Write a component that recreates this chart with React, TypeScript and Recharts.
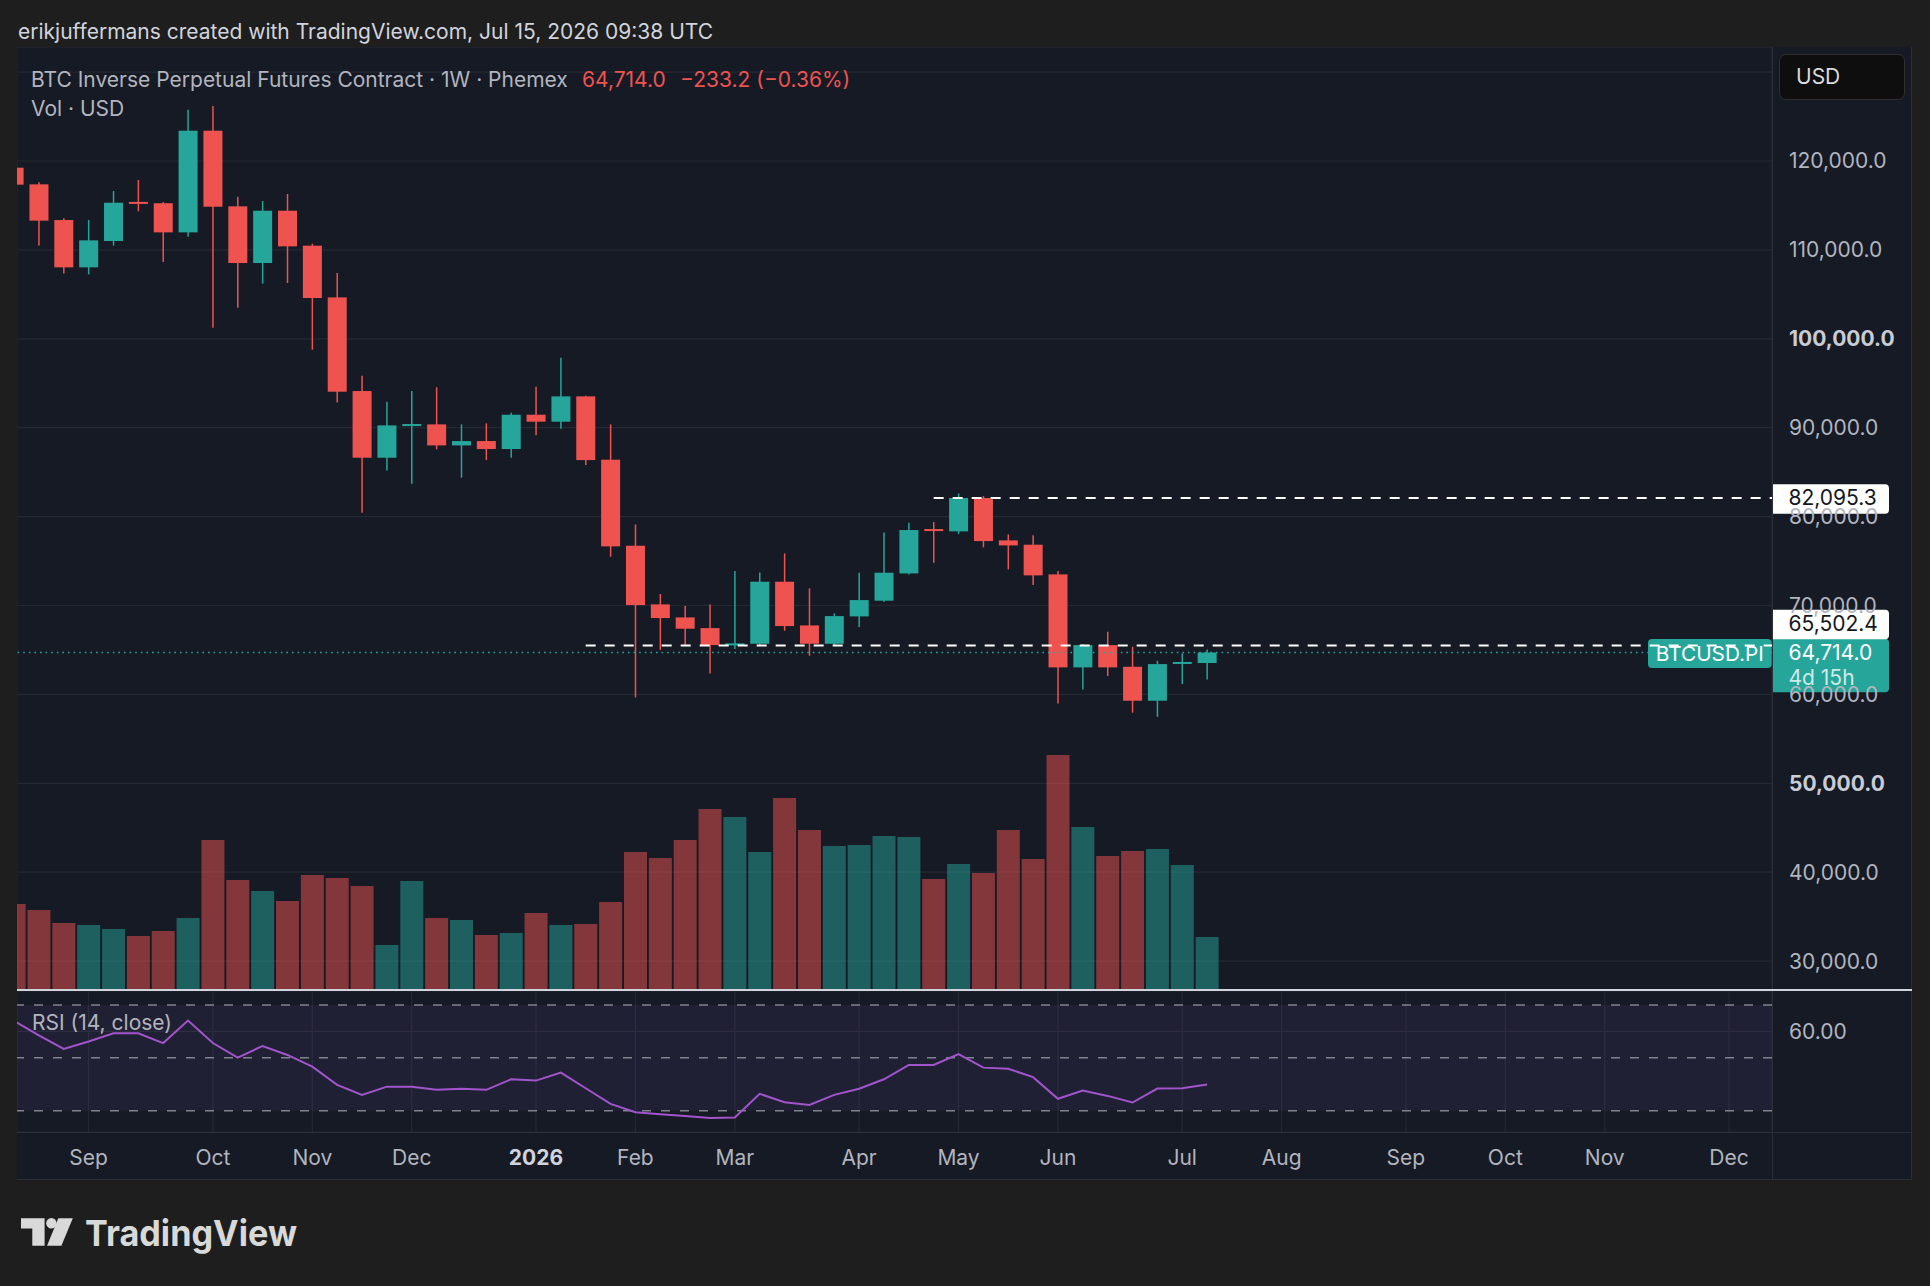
import React from 'react';
import {
  ComposedChart,
  Bar,
  Line,
  XAxis,
  YAxis,
  CartesianGrid,
  ReferenceLine,
  ReferenceArea,
} from 'recharts';

// ---------- style constants ----------
const FONT = "Inter, 'Noto Sans', Roboto, sans-serif";
const PAGE_BG = '#1e1e1e';
const CHART_BG = '#161a25';
const GRID = '#242833';
const LINE_SEP = '#2a2e39';
const AXIS_TXT = '#b2b5be';
const UP = '#26a69a';
const DOWN = '#ef5350';
const VOL_UP = 'rgba(38,166,154,0.5)';
const VOL_DOWN = 'rgba(239,83,80,0.5)';
const RSI_COLOR = '#a254cc';

// ---------- data ----------
const WEEKS = [
  '2025-08-11', '2025-08-18', '2025-08-25', '2025-09-01', '2025-09-08', '2025-09-15', '2025-09-22',
  '2025-09-29', '2025-10-06', '2025-10-13', '2025-10-20', '2025-10-27', '2025-11-03', '2025-11-10',
  '2025-11-17', '2025-11-24', '2025-12-01', '2025-12-08', '2025-12-15', '2025-12-22', '2025-12-29',
  '2026-01-05', '2026-01-12', '2026-01-19', '2026-01-26', '2026-02-02', '2026-02-09', '2026-02-16',
  '2026-02-23', '2026-03-02', '2026-03-09', '2026-03-16', '2026-03-23', '2026-03-30', '2026-04-06',
  '2026-04-13', '2026-04-20', '2026-04-27', '2026-05-04', '2026-05-11', '2026-05-18', '2026-05-25',
  '2026-06-01', '2026-06-08', '2026-06-15', '2026-06-22', '2026-06-29', '2026-07-06', '2026-07-13',
];

const OPEN = [
  119250, 117375, 113360, 108040, 111000, 115400, 115250, 111975, 123410, 114900, 108525, 114410,
  110475, 104660, 94125, 86625, 90300, 90375, 88010, 88500, 87600, 91460, 90675, 93525, 86400, 76725,
  70125, 68660, 67460, 65510, 65700, 72675, 67760, 65700, 68775, 70540, 73610, 78600, 78340, 82095,
  77325, 76840, 73500, 63040, 65550, 63110, 59290, 63550, 63530,
];
const HIGH = [
  124400, 117600, 113550, 113360, 116620, 117860, 115350, 125775, 126190, 115990, 115500, 116290,
  110700, 107400, 95850, 92925, 94125, 94540, 90375, 90490, 91690, 94610, 97875, 93600, 90375, 79125,
  71290, 69940, 70125, 73875, 73725, 75860, 71925, 69110, 73690, 78225, 79310, 79390, 82612, 82310,
  78000, 77890, 73875, 65660, 67050, 65360, 63790, 64610, 65060,
];
const LOW = [
  117200, 110500, 107360, 107250, 110480, 114340, 108640, 111490, 101250, 103500, 106200, 106275,
  98775, 92850, 80440, 85200, 83700, 87560, 84375, 86360, 86625, 89140, 89890, 85800, 75490, 59660,
  64990, 65440, 62360, 65100, 65500, 67160, 64350, 65550, 67575, 70425, 73500, 74810, 78040, 76540,
  74060, 72300, 58990, 60560, 62060, 57940, 57490, 61160, 61690,
];
const CLOSE = [
  117340, 113290, 108040, 111075, 115310, 115250, 111975, 123410, 114860, 108525, 114410, 110400,
  104590, 94050, 86625, 90260, 90412, 88010, 88500, 87600, 91460, 90675, 93525, 86360, 76650, 70050,
  68590, 67390, 65550, 65740, 72675, 67690, 65700, 68810, 70610, 73690, 78490, 78400, 82095, 77250,
  76760, 73390, 63040, 65550, 63040, 59290, 63410, 63650, 64714,
];
// weekly volume, relative units
const VOLUME = [
  86, 80, 67, 65, 61, 54, 59, 72, 150, 110, 99, 89, 115, 112, 104, 45, 109, 72, 70, 55, 57, 77, 65, 66,
  88, 138, 132, 150, 181, 173, 138, 192, 160, 144, 145, 154, 153, 111, 126, 117, 160, 131, 235, 163,
  134, 139, 141, 125, 53,
];
const RSI = [
  64.0, 58.5, 53.4, 56.2, 59.3, 59.3, 55.6, 64.1, 55.6, 50.1, 54.5, 51.1, 46.7, 39.8, 36.0, 39.1, 39.1,
  37.9, 38.3, 37.9, 41.9, 41.4, 44.4, 38.5, 32.6, 29.4, 28.7, 28.0, 27.2, 27.4, 36.4, 33.2, 32.2, 36.0,
  38.3, 41.9, 47.3, 47.3, 51.4, 46.3, 45.9, 42.7, 34.5, 37.6, 35.6, 33.1, 38.4, 38.5, 39.9,
];

const MONTH_DATES = [
  '2025-09-01', '2025-10-06', '2025-11-03', '2025-12-01', '2026-01-05', '2026-02-02', '2026-03-02',
  '2026-04-06', '2026-05-04', '2026-06-01', '2026-07-06', '2026-08-03', '2026-09-07', '2026-10-05',
  '2026-11-02', '2026-12-07',
];
const MONTH_LABELS = ['Sep', 'Oct', 'Nov', 'Dec', '2026', 'Feb', 'Mar', 'Apr', 'May', 'Jun', 'Jul', 'Aug', 'Sep', 'Oct', 'Nov', 'Dec'];

const PRICE_TICKS = [30000, 40000, 50000, 60000, 70000, 80000, 90000, 100000, 110000, 120000, 130000];
const HIDDEN_PRICE_LABELS = [130000]; // grid line only; its label sits under the currency button
const RSI_TICKS = [60];
const RSI_LEVELS = [70, 50, 30];
const LAST_PRICE = 64714.0;
const LEVEL_HIGH_FROM = '2026-04-27';
const LEVEL_HIGH = 82095.3;
const LEVEL_LOW_FROM = '2026-01-19';
const LEVEL_LOW = 65502.4;

// ---------- derived ----------
const weekIndex = (d: string) => Math.round((Date.parse(d) - Date.parse(WEEKS[0])) / 604800000);

const DATA = WEEKS.map((d, k) => ({
  i: weekIndex(d),
  o: OPEN[k],
  h: HIGH[k],
  l: LOW[k],
  c: CLOSE[k],
  range: [LOW[k], HIGH[k]],
  vol: VOLUME[k],
  up: CLOSE[k] >= OPEN[k],
  rsi: RSI[k],
}));

const MONTH_IDX = MONTH_DATES.map(weekIndex);
const MONTH_LABEL_BY_IDX: Record<number, string> = {};
MONTH_IDX.forEach((ix, k) => (MONTH_LABEL_BY_IDX[ix] = MONTH_LABELS[k]));

const X_DOMAIN: [number, number] = [0.1193, 70.729];
const P_DOMAIN: [number, number] = [26750, 132825];
const VOL_DOMAIN: [number, number] = [0, 943];
const RSI_DOMAIN: [number, number] = [21.94, 75.3];

const fmtPrice = (v: number) =>
  v.toLocaleString('en-US', { minimumFractionDigits: 1, maximumFractionDigits: 1 });

// ---------- shapes ----------
const Candle = (props: any) => {
  const { x, y, width, height, payload } = props;
  if (!payload || height == null) return null;
  const { o, h, l, c } = payload;
  const color = c >= o ? UP : DOWN;
  const k = height / (h - l);
  const yo = y + (h - o) * k;
  const yc = y + (h - c) * k;
  const top = Math.min(yo, yc);
  const bh = Math.max(Math.abs(yc - yo), 2);
  const cx = x + width / 2;
  return (
    <g>
      <line x1={cx} x2={cx} y1={y} y2={y + height} stroke={color} strokeWidth={1.5} />
      <rect x={x} y={top} width={width} height={bh} fill={color} />
    </g>
  );
};

const VolumeBar = (props: any) => {
  const { x, y, width, height, payload } = props;
  if (!payload) return null;
  return <rect x={x} y={y} width={width} height={height} fill={payload.up ? VOL_UP : VOL_DOWN} />;
};

const PriceTick = (props: any) => {
  const { x, y, payload } = props;
  const v = payload.value as number;
  if (HIDDEN_PRICE_LABELS.includes(v)) return <g />;
  const bold = v % 50000 === 0;
  return (
    <text
      x={x}
      y={y}
      dy="0.355em"
      textAnchor="start"
      fill={bold ? '#c9ccd4' : AXIS_TXT}
      fontSize={21}
      fontWeight={bold ? 700 : 400}
      fontFamily={FONT}
    >
      {fmtPrice(v)}
    </text>
  );
};

const RsiTick = (props: any) => {
  const { x, y, payload } = props;
  return (
    <text x={x} y={y} dy="0.355em" textAnchor="start" fill={AXIS_TXT} fontSize={21} fontFamily={FONT}>
      {(payload.value as number).toFixed(2)}
    </text>
  );
};

const TimeTick = (props: any) => {
  const { x, y, payload } = props;
  const label = MONTH_LABEL_BY_IDX[payload.value] ?? '';
  const bold = /^\d{4}$/.test(label);
  return (
    <text
      x={x}
      y={y}
      dy="0.71em"
      textAnchor="middle"
      fill={bold ? '#d1d4dc' : AXIS_TXT}
      fontSize={21}
      fontWeight={bold ? 700 : 400}
      fontFamily={FONT}
    >
      {label}
    </text>
  );
};

const tagPath = (x: number, top: number, w: number, h: number, r: number) =>
  `M${x},${top} h${w - r} a${r},${r} 0 0 1 ${r},${r} v${h - 2 * r} a${r},${r} 0 0 1 ${-r},${r} h${-(w - r)} z`;

const AxisTag = (props: any) => {
  const { viewBox, text, bg, fg, dy = 0, sub } = props;
  if (!viewBox) return null;
  const x = viewBox.x + viewBox.width + 1;
  const cy = viewBox.y + dy;
  const h = sub ? 53.5 : 29.4;
  const top = cy - 13.7;
  return (
    <g>
      <path d={tagPath(x, top, 116, h, 4)} fill={bg} />
      <text x={x + 15.5} y={cy} dy="0.355em" fill={fg} fontSize={21} fontFamily={FONT}>
        {text}
      </text>
      {sub ? (
        <text x={x + 15.5} y={cy + 25} dy="0.355em" fill="rgba(255,255,255,0.78)" fontSize={21} fontFamily={FONT}>
          {sub}
        </text>
      ) : null}
    </g>
  );
};

const LastPriceTags = (props: any) => {
  const { viewBox } = props;
  if (!viewBox) return null;
  const right = viewBox.x + viewBox.width;
  const cy = viewBox.y;
  return (
    <g>
      <rect x={right - 124} y={cy - 13.4} width={123.7} height={29} rx={4} fill={UP} />
      <text
        x={right - 116.2}
        y={cy + 1}
        dy="0.355em"
        fill="#ffffff"
        fontSize={20}
        fontFamily={FONT}
        textLength={108}
        lengthAdjust="spacingAndGlyphs"
      >
        BTCUSD.PI
      </text>
      <AxisTag viewBox={viewBox} text={fmtPrice(LAST_PRICE)} bg={UP} fg="#ffffff" sub="4d 15h" />
    </g>
  );
};

// ---------- logo ----------
const TVLogo = () => (
  <svg width={330} height={80} style={{ position: 'absolute', left: 0, top: 1200 }}>
    <g fill="#d9d9d9">
      <polygon points="21,18.3 44.6,18.3 44.6,45.7 32.3,45.7 32.3,28.5 21,28.5" />
      <circle cx={51.4} cy={23.2} r={5.2} />
      <polygon points="58.3,18.3 72.8,18.3 61.4,45.7 47,45.7" />
      <text
        x={85}
        y={45.5}
        fontSize={36}
        fontWeight={700}
        fontFamily={FONT}
        textLength={212}
        lengthAdjust="spacingAndGlyphs"
      >
        TradingView
      </text>
    </g>
  </svg>
);

// ---------- app ----------
export default function App() {
  const textBase: React.CSSProperties = { position: 'absolute', fontFamily: FONT, whiteSpace: 'nowrap' };
  return (
    <div
      style={{
        position: 'absolute',
        left: 0,
        top: 0,
        width: 1930,
        height: 1286,
        background: PAGE_BG,
        overflow: 'hidden',
        fontFamily: FONT,
      }}
    >
      {/* title */}
      <div style={{ ...textBase, left: 18, top: 16.5, height: 30, lineHeight: '30px', fontSize: 21, color: '#d1d4dc' }}>
        erikjuffermans created with TradingView.com, Jul 15, 2026 09:38 UTC
      </div>

      {/* panel background */}
      <div style={{ position: 'absolute', left: 17, top: 47, width: 1895, height: 1133, background: CHART_BG }} />

      {/* main price + volume pane */}
      <div style={{ position: 'absolute', left: 17, top: 47 }}>
        <ComposedChart width={1895} height={943} data={DATA} margin={{ top: 0, right: 0, bottom: 0, left: 0 }}>
          <XAxis
            xAxisId="x"
            dataKey="i"
            type="number"
            domain={X_DOMAIN}
            allowDataOverflow
            ticks={MONTH_IDX}
            interval={0}
            height={0}
            tick={false}
            axisLine={false}
            tickLine={false}
          />
          <XAxis xAxisId="xv" dataKey="i" type="number" domain={X_DOMAIN} allowDataOverflow hide />
          <YAxis
            yAxisId="p"
            orientation="right"
            width={140}
            domain={P_DOMAIN}
            allowDataOverflow
            ticks={PRICE_TICKS}
            interval={0}
            axisLine={false}
            tickLine={false}
            tickSize={6}
            tickMargin={11}
            tick={<PriceTick />}
          />
          <YAxis yAxisId="v" hide domain={VOL_DOMAIN} allowDataOverflow />
          <CartesianGrid xAxisId="x" yAxisId="p" stroke={GRID} strokeWidth={1.2} />
          <Bar
            xAxisId="xv"
            yAxisId="v"
            dataKey="vol"
            barSize={23}
            shape={VolumeBar}
            isAnimationActive={false}
          />
          <Bar
            xAxisId="x"
            yAxisId="p"
            dataKey="range"
            barSize={19}
            shape={Candle}
            isAnimationActive={false}
          />
          <ReferenceLine
            xAxisId="x"
            yAxisId="p"
            y={LAST_PRICE}
            stroke={UP}
            strokeWidth={1.6}
            strokeDasharray="1.6 4"
            label={(p: any) => <LastPriceTags {...p} />}
          />
          <ReferenceLine
            xAxisId="x"
            yAxisId="p"
            segment={[
              { x: weekIndex(LEVEL_LOW_FROM), y: LEVEL_LOW },
              { x: X_DOMAIN[1], y: LEVEL_LOW },
            ]}
            stroke="#ffffff"
            strokeWidth={2}
            strokeDasharray="10 9"
            label={(p: any) => <AxisTag {...p} text={fmtPrice(LEVEL_LOW)} bg="#ffffff" fg="#131722" dy={-22} />}
          />
          <ReferenceLine
            xAxisId="x"
            yAxisId="p"
            segment={[
              { x: weekIndex(LEVEL_HIGH_FROM), y: LEVEL_HIGH },
              { x: X_DOMAIN[1], y: LEVEL_HIGH },
            ]}
            stroke="#ffffff"
            strokeWidth={2}
            strokeDasharray="10 9"
            label={(p: any) => <AxisTag {...p} text={fmtPrice(LEVEL_HIGH)} bg="#ffffff" fg="#131722" />}
          />
        </ComposedChart>
      </div>

      {/* RSI pane + time axis */}
      <div style={{ position: 'absolute', left: 17, top: 991 }}>
        <ComposedChart width={1895} height={189} data={DATA} margin={{ top: 0, right: 0, bottom: 0, left: 0 }}>
          <XAxis
            xAxisId="x"
            dataKey="i"
            type="number"
            domain={X_DOMAIN}
            allowDataOverflow
            ticks={MONTH_IDX}
            interval={0}
            height={48}
            axisLine={false}
            tickLine={false}
            tickSize={6}
            tickMargin={12.5}
            tick={<TimeTick />}
          />
          <YAxis
            yAxisId="r"
            orientation="right"
            width={140}
            domain={RSI_DOMAIN}
            allowDataOverflow
            ticks={RSI_TICKS}
            interval={0}
            axisLine={false}
            tickLine={false}
            tickSize={6}
            tickMargin={11}
            tick={<RsiTick />}
          />
          <ReferenceArea xAxisId="x" yAxisId="r" y1={30} y2={70} fill="#7e57c2" fillOpacity={0.1} stroke="none" />
          <CartesianGrid xAxisId="x" yAxisId="r" stroke={GRID} strokeWidth={1.2} />
          {RSI_LEVELS.map((lv) => (
            <ReferenceLine
              key={lv}
              xAxisId="x"
              yAxisId="r"
              y={lv}
              stroke="#80838e"
              strokeWidth={1.5}
              strokeDasharray="9 10"
            />
          ))}
          <Line
            xAxisId="x"
            yAxisId="r"
            dataKey="rsi"
            type="linear"
            stroke={RSI_COLOR}
            strokeWidth={2}
            dot={false}
            activeDot={false}
            isAnimationActive={false}
          />
        </ComposedChart>
      </div>

      {/* separators */}
      <div style={{ position: 'absolute', left: 1772, top: 47, width: 1, height: 1133, background: LINE_SEP }} />
      <div style={{ position: 'absolute', left: 17, top: 1132, width: 1895, height: 1, background: LINE_SEP }} />
      <div style={{ position: 'absolute', left: 17, top: 1179, width: 1895, height: 1, background: LINE_SEP }} />
      <div style={{ position: 'absolute', left: 1911, top: 47, width: 1, height: 1133, background: LINE_SEP }} />
      <div style={{ position: 'absolute', left: 17, top: 989, width: 1895, height: 2, background: '#d1d4dc' }} />

      {/* legend */}
      <div style={{ ...textBase, left: 31, top: 64.5, height: 30, lineHeight: '30px', fontSize: 21, color: AXIS_TXT }}>
        BTC Inverse Perpetual Futures Contract · 1W · Phemex
      </div>
      <div style={{ ...textBase, left: 582, top: 64.5, height: 30, lineHeight: '30px', fontSize: 21, color: DOWN }}>
        64,714.0
      </div>
      <div style={{ ...textBase, left: 680, top: 64.5, height: 30, lineHeight: '30px', fontSize: 21, color: DOWN }}>
        −233.2 (−0.36%)
      </div>
      <div style={{ ...textBase, left: 31, top: 93.5, height: 30, lineHeight: '30px', fontSize: 21, color: AXIS_TXT }}>
        Vol · USD
      </div>
      <div style={{ ...textBase, left: 32, top: 1008, height: 30, lineHeight: '30px', fontSize: 21, color: AXIS_TXT }}>
        RSI (14, close)
      </div>

      {/* currency button */}
      <div
        style={{
          position: 'absolute',
          left: 1779,
          top: 54,
          width: 126,
          height: 46,
          boxSizing: 'border-box',
          background: '#0e0e0f',
          border: '1px solid #2e2f33',
          borderRadius: 7,
          paddingLeft: 16,
          lineHeight: '44px',
          fontSize: 21,
          color: '#dcdcdc',
          fontFamily: FONT,
        }}
      >
        USD
      </div>

      <TVLogo />
    </div>
  );
}
